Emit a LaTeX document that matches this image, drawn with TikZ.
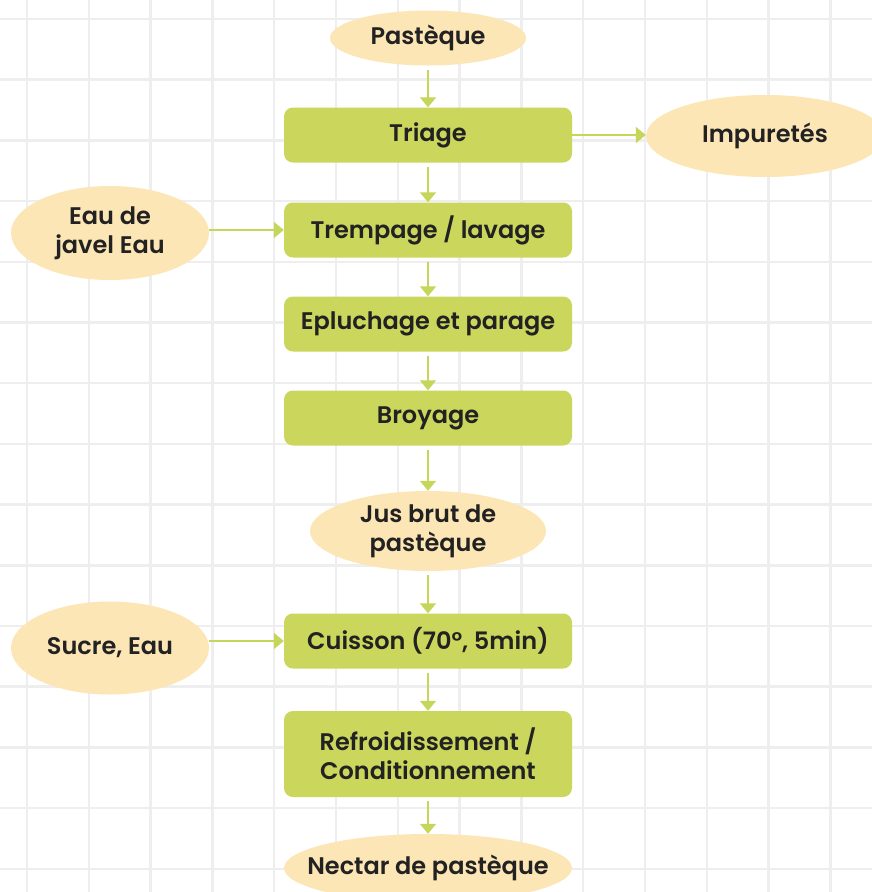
\documentclass[tikz,border=0pt]{standalone}
\usepackage{fontspec}
\setmainfont{Poppins}[BoldFont={Poppins SemiBold}]
\usetikzlibrary{shapes.geometric,arrows.meta}

\definecolor{boxgreen}{HTML}{CBD65C}
\definecolor{linegreen}{HTML}{C6D65A}
\definecolor{cream}{HTML}{FDE6B6}
\definecolor{gridgray}{HTML}{EEEEEE}
\definecolor{txt}{HTML}{222222}

\tikzset{
  process/.style={rectangle,rounded corners=9pt,fill=boxgreen,text=txt,
    minimum width=288pt,minimum height=55pt,inner sep=0pt,align=center,
    font=\bfseries\fontsize{24}{29}\selectfont},
  product/.style={ellipse,fill=cream,text=txt,inner sep=0pt,align=center,
    font=\bfseries\fontsize{24}{29}\selectfont},
  flow/.style={linegreen,line width=1.6pt,-{Triangle[width=16pt,length=10pt]}},
  gridline/.style={gridgray,line width=2.5pt}
}

\begin{document}
\begin{tikzpicture}[x=1pt,y=-1pt]

  \useasboundingbox[fill=white] (0,0) rectangle (872,892);

  % draw background grid
  \begin{scope}
    \clip (0,0) rectangle (872,892);
    \foreach \k in {0,...,13} {
      \draw[gridline] ({27+61.8*\k},0) -- ({27+61.8*\k},892);
    };
    \foreach \k in {0,...,14} {
      \draw[gridline] (0,{19+60.7*\k}) -- (872,{19+60.7*\k});
    };
  \end{scope}

  % draw main chain
  \node[product,minimum width=196pt,minimum height=55pt] (pasteque) at (428,38) {Pastèque};
  \node[process] (triage) at (428,135) {Triage};
  \node[process] (lavage) at (428,230) {Trempage / lavage};
  \node[process] (epluchage) at (428,324) {Epluchage et parage};
  \node[process] (broyage) at (428,418) {Broyage};
  \node[product,minimum width=236pt,minimum height=80pt] (jus) at (428,531) {Jus brut de\\pastèque};
  \node[process] (cuisson) at (428,641) {Cuisson (70°, 5min)};
  \node[process,minimum height=86pt] (refroid) at (428,754) {Refroidissement /\\Conditionnement};
  \node[product,inner xsep=-22pt,minimum width=288pt,minimum height=68pt] (nectar) at (428,868) {Nectar de pastèque};

  % draw side inputs and outputs
  \node[product,minimum width=238pt,minimum height=82pt] (impuretes) at (765,136) {Impuretés};
  \node[product,minimum width=198pt,minimum height=94pt] (javel) at (110,233) {Eau de\\javel Eau};
  \node[product,minimum width=198pt,minimum height=93pt] (sucre) at (110,648) {Sucre, Eau};

  % draw arrows
  \foreach \a/\b in {pasteque/triage,triage/lavage,lavage/epluchage,epluchage/broyage,
                     broyage/jus,jus/cuisson,cuisson/refroid,refroid/nectar} {
    \draw[flow] (\a.south) ++(0,4) -- (\b.north);
  };
  \draw[flow] (triage.east) -- (impuretes.west |- triage.east);
  \draw[flow] (javel.east |- lavage.west) -- (lavage.west);
  \draw[flow] (sucre.east |- cuisson.west) -- (cuisson.west);

\end{tikzpicture}
\end{document}
